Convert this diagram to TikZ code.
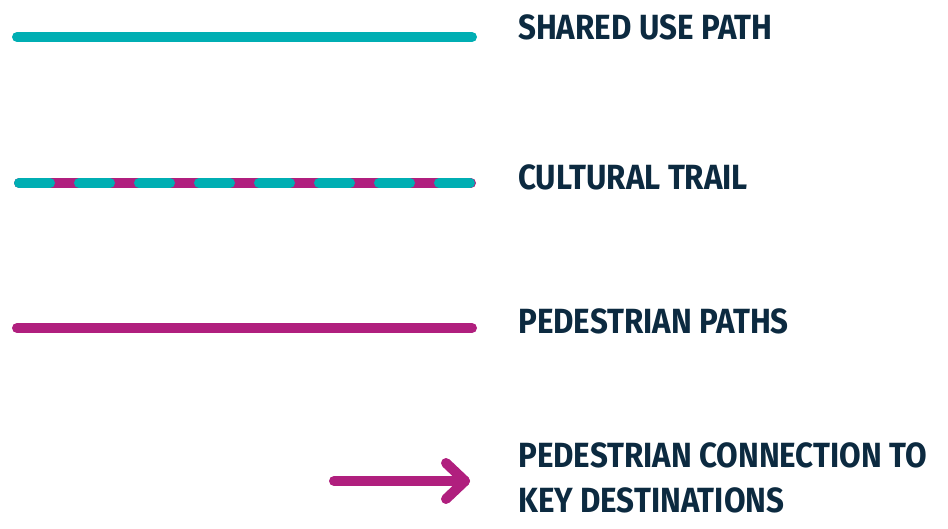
\documentclass[tikz,border=0pt]{standalone}
\usepackage{fontspec}
\setmainfont{Fira Sans}[FakeStretch=0.895]
\definecolor{teal}{HTML}{00AEB3}
\definecolor{mag}{HTML}{B01F7E}
\definecolor{navy}{HTML}{0C2A40}
\begin{document}
\begin{tikzpicture}[x=1pt,y=-1pt,
  lbl/.style={anchor=base west,inner sep=0pt,text=navy,font=\fontsize{35}{45}\selectfont\bfseries,align=left},
  thick line/.style={line width=10pt,line cap=round}]
\useasboundingbox (0,0) rectangle (948,529);
\coordinate (a1) at (17,37); \coordinate (a2) at (472,37);
\coordinate (b1) at (19,183); \coordinate (b2) at (471,183);
\coordinate (c1) at (17,328); \coordinate (c2) at (472,328);
\coordinate (d1) at (334,481); \coordinate (d2) at (465,481);
\coordinate (h1) at (446,463); \coordinate (h2) at (446,499);
\draw[thick line,teal] (a1) -- (a2);
\draw[thick line,mag] (b1) -- (b2);
\draw[thick line,teal,dash pattern=on 31pt off 29pt] (b1) -- (b2);
\draw[thick line,mag] (c1) -- (c2);
\draw[thick line,mag,line join=round] (d1) -- (d2);
\draw[thick line,mag,line join=round] (h1) -- (d2) -- (h2);
\node[lbl] (t1) at (518,40) {SHARED USE PATH};
\node[lbl] (t2) at (518,190) {CULTURAL TRAIL};
\node[lbl] (t3) at (518,334) {PEDESTRIAN PATHS};
\node[lbl] (t4) at (518,467) {PEDESTRIAN CONNECTION TO};
\node[lbl] (t5) at (518,512) {KEY DESTINATIONS};
\end{tikzpicture}
\end{document}
